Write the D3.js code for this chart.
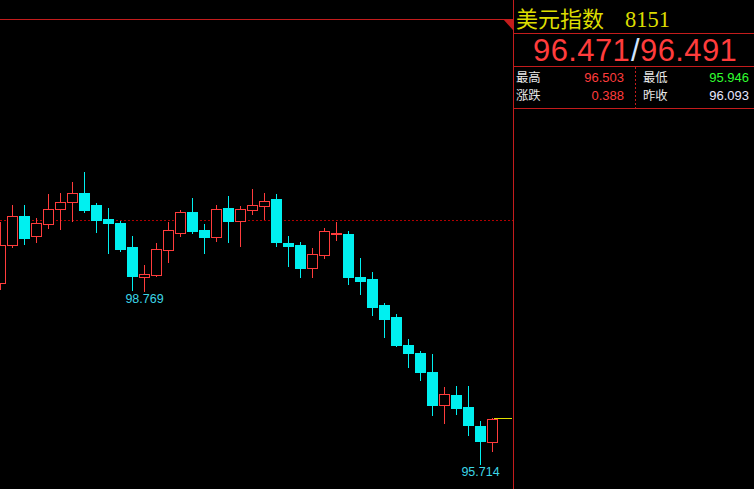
<!DOCTYPE html>
<html><head><meta charset="utf-8">
<script src="https://cdn.jsdelivr.net/npm/d3@7"></script>
<style>html,body{margin:0;padding:0;background:#000;overflow:hidden}svg{display:block}</style>
</head><body><svg id="c" width="754" height="489"></svg>
<script>
// ---- data ----
const opens  = [98.91, 99.58, 100.10, 99.74, 99.96, 100.22, 100.34, 100.50, 100.29, 100.04, 99.97, 99.55, 99.01, 99.06, 99.50, 99.80, 100.17, 99.85, 99.73, 100.24, 100.00, 100.21, 100.28, 100.40, 99.62, 99.58, 99.17, 99.41, 99.77, 99.78, 99.02, 98.98, 98.52, 98.31, 97.82, 97.67, 97.34, 96.76, 96.93, 96.72, 96.38, 96.093];
const closes = [99.58, 100.09, 99.71, 99.97, 100.22, 100.34, 100.50, 100.21, 100.03, 99.98, 99.52, 99.04, 99.07, 99.51, 99.85, 100.17, 99.84, 99.73, 100.22, 100.01, 100.22, 100.29, 100.36, 99.63, 99.57, 99.17, 99.43, 99.83, 99.80, 99.01, 98.94, 98.48, 98.28, 97.82, 97.68, 97.33, 96.76, 96.95, 96.71, 96.41, 96.11, 96.50];
const highs  = [99.99, 100.30, 100.29, 100.07, 100.49, 100.50, 100.70, 100.87, 100.33, 100.23, 100.01, 99.74, 99.23, 99.62, 99.99, 100.20, 100.42, 99.96, 100.29, 100.45, 100.27, 100.57, 100.50, 100.49, 99.74, 99.64, 99.53, 99.88, 99.99, 99.83, 99.35, 99.11, 98.56, 98.36, 97.92, 97.71, 97.66, 97.07, 97.09, 97.09, 96.47, 96.52];
const lows   = [98.81, 99.55, 99.61, 99.64, 99.89, 99.87, 100.01, 100.17, 99.82, 99.45, 99.47, 98.79, 98.769, 99.04, 99.29, 99.75, 99.80, 99.45, 99.66, 99.64, 99.57, 100.14, 100.04, 99.57, 99.22, 99.01, 99.02, 99.36, 99.68, 98.90, 98.71, 98.35, 97.95, 97.79, 97.43, 97.19, 96.57, 96.44, 96.60, 96.23, 95.714, 95.946];
const lowLabelIdx = [12, 40];
const refLevel = 100.02;

const titleName = "美元指数";
const titleCode = "8151";
const bidAsk = ["96.471", "96.491"];
const statLabels = ["最高", "涨跌", "最低", "昨收"];
const statValues = ["96.503", "0.388", "95.946", "96.093"];

// ---- layout ----
const W = 754, H = 489, chartR = 513, chartT = 19;
const RED = "#ff3c3c", CYAN = "#00f0f0", LINE = "#c41c1c";
const svg = d3.select("#c");
svg.append("rect").attr("width", W).attr("height", H).attr("fill", "#000");

const x = d3.scaleLinear().domain([0, opens.length - 1]).range([0.5, 0.5 + 12 * (opens.length - 1)]);
const y = d3.scaleLinear().domain([95.27, 103.58]).range([H, chartT]);
const ry = v => Math.round(y(v));

// frame lines
svg.append("line").attr("x1", 0).attr("x2", chartR).attr("y1", 19.5).attr("y2", 19.5).attr("stroke", LINE);
svg.append("line").attr("x1", chartR + 0.5).attr("x2", chartR + 0.5).attr("y1", 0).attr("y2", H).attr("stroke", LINE);
svg.append("path").attr("d", `M503,19 L${chartR},19 L${chartR},30 Z`).attr("fill", LINE);

// reference dotted line
svg.append("line").attr("x1", 0).attr("x2", chartR).attr("y1", ry(refLevel) + 0.5).attr("y2", ry(refLevel) + 0.5)
  .attr("stroke", "#b00000").attr("stroke-dasharray", "2,2");

const data = opens.map((o, i) => ({ i, o, c: closes[i], h: highs[i], l: lows[i] }));
const g = svg.append("g");
data.forEach(d => {
  const up = d.c >= d.o;
  const col = up ? RED : CYAN;
  const cx = x(d.i);
  const top = ry(Math.max(d.o, d.c)), bot = ry(Math.min(d.o, d.c));
  g.append("line").attr("x1", cx).attr("x2", cx).attr("y1", ry(d.h)).attr("y2", ry(d.l) + 1).attr("stroke", col);
  if (up) {
    g.append("rect").attr("x", cx - 5).attr("width", 10).attr("y", top + 0.5).attr("height", Math.max(1, bot - top))
      .attr("fill", "#000").attr("stroke", col);
  } else {
    g.append("rect").attr("x", cx - 5.5).attr("width", 11).attr("y", top).attr("height", Math.max(2, bot - top + 1))
      .attr("fill", col);
  }
});

// last price line
const last = data[data.length - 1];
svg.append("line").attr("x1", x(last.i) + 1.5).attr("x2", chartR - 1).attr("y1", ry(last.c) - 0.5).attr("y2", ry(last.c) - 0.5)
  .attr("stroke", "#e0e000");

// low labels
lowLabelIdx.forEach(i => {
  svg.append("text").attr("x", x(i)).attr("y", ry(lows[i]) + 12).attr("text-anchor", "middle")
    .attr("font-family", "Liberation Sans, Arial, sans-serif").attr("font-size", 12.5).attr("fill", "#3cd6e6")
    .text(lows[i].toFixed(3));
});

// ---- right panel ----
const P = svg.append("g");
P.append("text").attr("x", 516).attr("y", 26.5).attr("font-family", "Noto Sans CJK SC").attr("font-size", 22)
  .attr("fill", "#dcdc00").text(titleName);
P.append("text").attr("x", 625).attr("y", 26.5).attr("font-family", "Liberation Serif, serif").attr("font-size", 22.5)
  .attr("fill", "#dcdc00").text(titleCode);
[33, 66, 108].forEach(yy => P.append("line").attr("x1", chartR).attr("x2", W).attr("y1", yy + 0.5).attr("y2", yy + 0.5).attr("stroke", LINE));
P.append("line").attr("x1", 635.5).attr("x2", 635.5).attr("y1", 67).attr("y2", 108).attr("stroke", LINE).attr("stroke-dasharray", "2,2");

// big bid / ask
const bigFont = "Liberation Sans, Arial, sans-serif";
const bigParts = [
  { t: bidAsk[0], x: 533, c: RED },
  { t: "/", x: 631, c: "#d0e4ff" },
  { t: bidAsk[1], x: 640, c: RED }
];
bigParts.forEach(p => {
  P.append("text").attr("x", p.x).attr("y", 61).attr("font-family", bigFont).attr("font-size", 31)
    .attr("letter-spacing", p.t.length > 1 ? 0.4 : 0).attr("fill", p.c).text(p.t);
});

const labX = [516, 516, 643, 643], labY = [82, 100, 82, 100];
const valX = [624, 624, 749, 749];
const valCol = [RED, RED, "#30ff30", "#e8e8ff"];
statLabels.forEach((t, k) => {
  P.append("text").attr("x", labX[k]).attr("y", labY[k]).attr("font-family", "Noto Sans CJK SC").attr("font-size", 12.3)
    .attr("fill", "#e8e8e8").text(t);
  P.append("text").attr("x", valX[k]).attr("y", labY[k]).attr("text-anchor", "end")
    .attr("font-family", "Liberation Sans, Arial, sans-serif").attr("font-size", 13).attr("fill", valCol[k]).text(statValues[k]);
});
</script></body></html>
